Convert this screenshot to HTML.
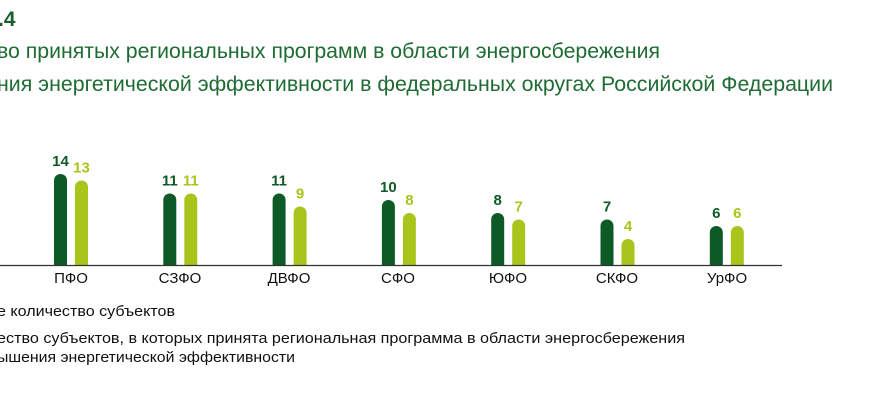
<!DOCTYPE html>
<html><head><meta charset="utf-8"><style>
body{margin:0;width:870px;height:400px;background:#fff;overflow:hidden;font-family:"Liberation Sans",sans-serif;}
</style></head><body>
<svg width="870" height="400" xmlns="http://www.w3.org/2000/svg" font-family="Liberation Sans, sans-serif">
<defs><clipPath id="c"><rect x="0" y="0" width="870" height="265"/></clipPath></defs>
<text x="-2" y="26" font-size="21" font-weight="bold" fill="#1a5e2e">.4</text>
<text x="-3" y="58" font-size="21" fill="#1f6b34" textLength="663" lengthAdjust="spacingAndGlyphs">во принятых региональных программ в области энергосбережения</text>
<text x="-3" y="91" font-size="21" fill="#1f6b34" textLength="836" lengthAdjust="spacingAndGlyphs">ния энергетической эффективности в федеральных округах Российской Федерации</text>
<g clip-path="url(#c)">
<rect x="54" y="174" width="13" height="100" rx="6.5" fill="#0d5a27"/>
<rect x="75" y="180.5" width="13" height="100" rx="6.5" fill="#a9c51c"/>
<rect x="163.3" y="193.5" width="13" height="100" rx="6.5" fill="#0d5a27"/>
<rect x="184.3" y="193.5" width="13" height="100" rx="6.5" fill="#a9c51c"/>
<rect x="272.6" y="193.5" width="13" height="100" rx="6.5" fill="#0d5a27"/>
<rect x="293.6" y="206.5" width="13" height="100" rx="6.5" fill="#a9c51c"/>
<rect x="381.9" y="200" width="13" height="100" rx="6.5" fill="#0d5a27"/>
<rect x="402.9" y="213" width="13" height="100" rx="6.5" fill="#a9c51c"/>
<rect x="491.2" y="213" width="13" height="100" rx="6.5" fill="#0d5a27"/>
<rect x="512.2" y="219.5" width="13" height="100" rx="6.5" fill="#a9c51c"/>
<rect x="600.5" y="219.5" width="13" height="100" rx="6.5" fill="#0d5a27"/>
<rect x="621.5" y="239" width="13" height="100" rx="6.5" fill="#a9c51c"/>
<rect x="709.8" y="226" width="13" height="100" rx="6.5" fill="#0d5a27"/>
<rect x="730.8" y="226" width="13" height="100" rx="6.5" fill="#a9c51c"/>
</g>
<line x1="0" y1="265.5" x2="782" y2="265.5" stroke="#333" stroke-width="1.2"/>
<g font-size="15" font-weight="bold" text-anchor="middle">
<text x="60.5" y="166" fill="#0d5a27">14</text><text x="81.5" y="172.5" fill="#a9c51c">13</text>
<text x="169.8" y="185.5" fill="#0d5a27">11</text><text x="190.8" y="185.5" fill="#a9c51c">11</text>
<text x="279.1" y="185.5" fill="#0d5a27">11</text><text x="300.1" y="198.5" fill="#a9c51c">9</text>
<text x="388.4" y="192" fill="#0d5a27">10</text><text x="409.4" y="205" fill="#a9c51c">8</text>
<text x="497.7" y="205" fill="#0d5a27">8</text><text x="518.7" y="211.5" fill="#a9c51c">7</text>
<text x="607" y="211.5" fill="#0d5a27">7</text><text x="628" y="231" fill="#a9c51c">4</text>
<text x="716.3" y="218" fill="#0d5a27">6</text><text x="737.3" y="218" fill="#a9c51c">6</text>
</g>
<g font-size="15" fill="#111" text-anchor="middle">
<text x="71" y="283">ПФО</text><text x="180" y="283">СЗФО</text><text x="289" y="283">ДВФО</text>
<text x="398" y="283">СФО</text><text x="508" y="283">ЮФО</text><text x="617" y="283">СКФО</text><text x="727" y="283">УрФО</text>
</g>
<g font-size="15" fill="#111">
<text x="-3" y="316" textLength="178" lengthAdjust="spacingAndGlyphs">е количество субъектов</text>
<text x="-3" y="343" textLength="688" lengthAdjust="spacingAndGlyphs">ество субъектов, в которых принята региональная программа в области энергосбережения</text>
<text x="-3" y="362" textLength="298" lengthAdjust="spacingAndGlyphs">ышения энергетической эффективности</text>
</g>
</svg>
</body></html>
